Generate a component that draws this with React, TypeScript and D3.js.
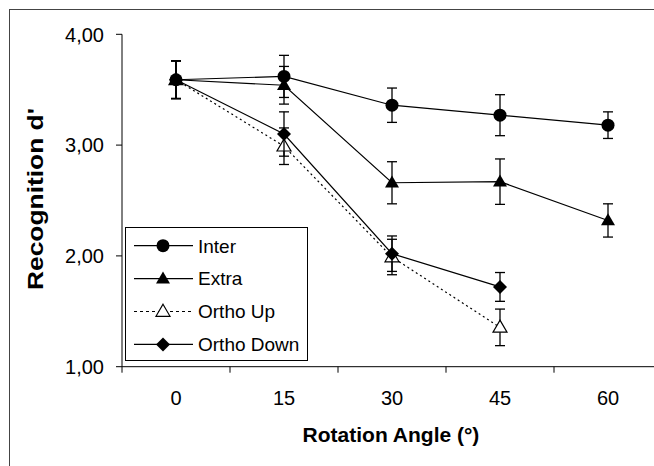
import * as d3 from "d3";

// categories and series
const angles = ["0", "15", "30", "45", "60"];
const yTicks = [1, 2, 3, 4];

const inter = [3.59, 3.62, 3.36, 3.27, 3.18];
const interErr = [0.17, 0.19, 0.155, 0.185, 0.12];
const extra = [3.59, 3.54, 2.66, 2.67, 2.32];
const extraErr = [0.17, 0.17, 0.19, 0.205, 0.15];
const orthoUp = [3.59, 2.99, 1.99, 1.355, null];
const orthoUpErr = [0.17, 0.165, 0.16, 0.165, null];
const orthoDown = [3.59, 3.1, 2.02, 1.72, null];
const orthoDownErr = [0.17, 0.2, 0.16, 0.13, null];

const width = 654;
const height = 466;
const font = "'Liberation Sans', Arial, sans-serif";

const x = d3.scaleBand().domain(angles).range([122, 122 + 5 * 108]);
const y = d3.scaleLinear().domain([1, 4]).range([366.7, 34.3]);
const fmt = (v) => d3.format(".2f")(v).replace(".", ",");

type Shape = "circle" | "triangle" | "openTriangle" | "diamond";

const series = [
  { name: "Ortho Up", values: orthoUp, err: orthoUpErr, shape: "openTriangle", dash: "2,3", legendDash: "3,3" },
  { name: "Ortho Down", values: orthoDown, err: orthoDownErr, shape: "diamond", dash: null, legendDash: null },
  { name: "Extra", values: extra, err: extraErr, shape: "triangle", dash: null, legendDash: null },
  { name: "Inter", values: inter, err: interErr, shape: "circle", dash: null, legendDash: null },
];
const legendOrder = ["Inter", "Extra", "Ortho Up", "Ortho Down"];

function Marker({ shape, cx, cy }: { shape: Shape; cx: number; cy: number }) {
  if (shape === "circle") return <circle cx={cx} cy={cy} r={6.5} fill="#000" />;
  if (shape === "diamond") {
    const s = 7;
    return <path d={`M${cx},${cy - s}L${cx + s},${cy}L${cx},${cy + s}L${cx - s},${cy}Z`} fill="#000" />;
  }
  const w = 7, h = 12;
  const p = `M${cx},${cy - h * 0.6}L${cx + w},${cy + h * 0.4}L${cx - w},${cy + h * 0.4}Z`;
  if (shape === "openTriangle") return <path d={p} fill="#fff" stroke="#000" strokeWidth={1.2} />;
  return <path d={p} fill="#000" />;
}

export default function App() {
  const cx = (i) => x(angles[i]) + x.bandwidth() / 2;
  const line = d3
    .line<number | null>()
    .defined((d) => d != null)
    .x((_, i) => cx(i))
    .y((d) => y(d as number));

  return (
    <svg width={width} height={height} style={{ position: "absolute", left: 0, top: 0, background: "#fff" }} fontFamily={font}>
      {/* outer frame, cut by the picture's right and bottom edges */}
      <rect x={9.5} y={9.5} width={width + 20} height={height + 20} fill="none" stroke="#444" strokeWidth={1} />

      {/* y axis */}
      <line x1={122} x2={122} y1={y(4)} y2={y(1)} stroke="#000" />
      {yTicks.map((t) => (
        <g key={t}>
          <line x1={116} x2={122} y1={y(t)} y2={y(t)} stroke="#000" />
          <text x={104} y={y(t)} dy="0.36em" textAnchor="end" fontSize={20}>{fmt(t)}</text>
        </g>
      ))}

      {/* x axis */}
      <line x1={122} x2={width} y1={y(1)} y2={y(1)} stroke="#000" />
      {angles.map((a) => (
        <g key={a}>
          <line x1={x(a)} x2={x(a)} y1={y(1)} y2={y(1) + 6} stroke="#000" />
          <text x={x(a) + x.bandwidth() / 2} y={405} textAnchor="middle" fontSize={20}>{a}</text>
        </g>
      ))}
      <line x1={x("60") + x.bandwidth()} x2={x("60") + x.bandwidth()} y1={y(1)} y2={y(1) + 6} stroke="#000" />

      <text x={391} y={442} textAnchor="middle" fontSize={21} fontWeight="bold">Rotation Angle (°)</text>
      <text transform="translate(43,199) rotate(-90)" textAnchor="middle" fontSize={22} fontWeight="bold"
        textLength={182} lengthAdjust="spacingAndGlyphs">Recognition d'</text>

      {/* lines */}
      {series.map((s) => (
        <path key={s.name} d={line(s.values)} fill="none" stroke="#000" strokeWidth={1.2}
          strokeDasharray={s.dash ?? undefined} />
      ))}

      {/* error bars and markers */}
      {series.map((s) => (
        <g key={s.name}>
          {s.values.map((v, i) => {
            if (v == null) return null;
            const e = s.err[i] as number;
            const px = cx(i);
            return (
              <g key={i} stroke="#000" strokeWidth={1.3}>
                <line x1={px} x2={px} y1={y(v + e)} y2={y(v - e)} />
                <line x1={px - 5} x2={px + 5} y1={y(v + e)} y2={y(v + e)} />
                <line x1={px - 5} x2={px + 5} y1={y(v - e)} y2={y(v - e)} />
              </g>
            );
          })}
          {s.values.map((v, i) =>
            v == null ? null : <Marker key={i} shape={s.shape as Shape} cx={cx(i)} cy={y(v)} />
          )}
        </g>
      ))}

      {/* legend */}
      <rect x={125.5} y={227.5} width={182} height={133} fill="#fff" stroke="#000" strokeWidth={1} />
      {legendOrder.map((name, i) => {
        const s = series.find((d) => d.name === name);
        const ly = 245.7 + i * 32.9;
        return (
          <g key={name}>
            <line x1={134} x2={193} y1={ly} y2={ly} stroke="#000" strokeWidth={1.2} strokeDasharray={s.legendDash ?? undefined} />
            <Marker shape={s.shape as Shape} cx={163} cy={ly} />
            <text x={198} y={ly} dy="0.36em" fontSize={19}>{name}</text>
          </g>
        );
      })}
    </svg>
  );
}
